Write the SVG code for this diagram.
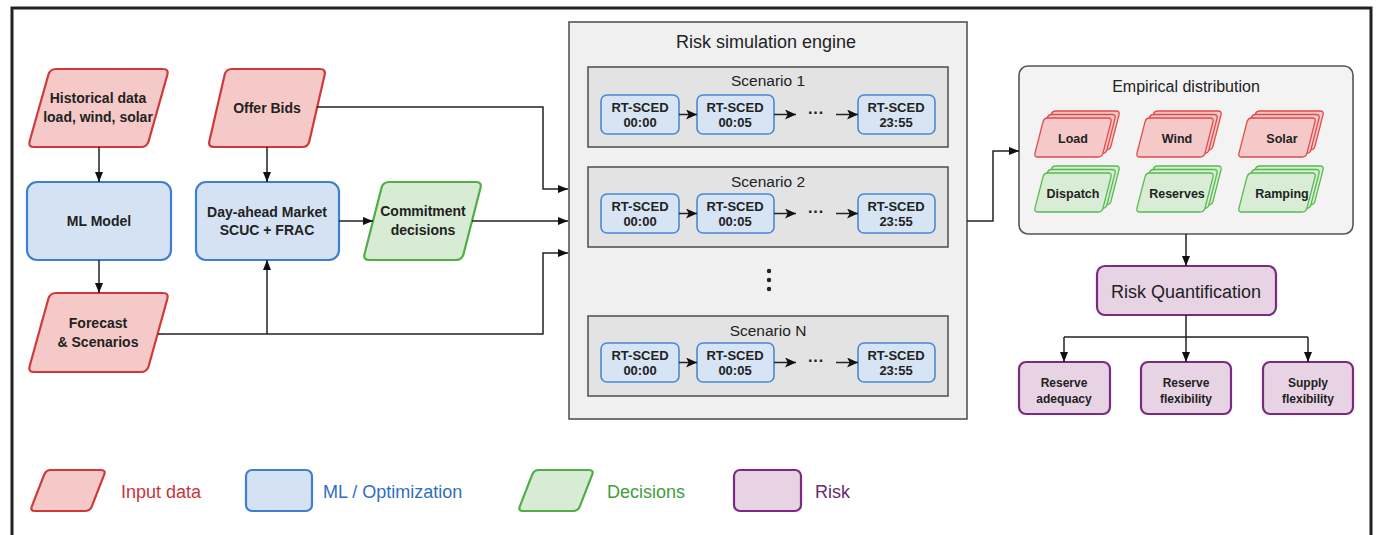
<svg xmlns="http://www.w3.org/2000/svg" xmlns:xlink="http://www.w3.org/1999/xlink" width="1387" height="535" viewBox="0 0 1387 535">
<style>
text{font-family:"Liberation Sans",Arial,sans-serif;fill:#222;text-anchor:middle}
.nt{font-size:14px;font-weight:bold}
.rt{font-size:13px;font-weight:bold}
.sm{font-size:12.5px;font-weight:bold}
.bt{font-size:12px;font-weight:bold}
.red{fill:#f5c9c8;stroke:#d0393b;stroke-width:2.2}
.blue{fill:#d5e2f3;stroke:#3d80d2;stroke-width:2.2}
.green{fill:#d8ebd4;stroke:#4fae45;stroke-width:2.2}
.purple{fill:#e7d3e4;stroke:#7a2a80;stroke-width:2.2}
.sred{fill:#f5c9c8;stroke:#e04a4a;stroke-width:1.3}
.sgreen{fill:#d9ecd5;stroke:#55bb4e;stroke-width:1.3}
.rtb{fill:#d6e4f4;stroke:#4a88d6;stroke-width:1.6}
.scn{fill:#e3e3e3;stroke:#555;stroke-width:1.6}
.con{fill:none;stroke:#222;stroke-width:1.5}
.arr{marker-end:url(#ah)}
.arr2{marker-end:url(#ah2)}
.leg{font-size:18px;text-anchor:start}
.dots{font-size:16px;font-weight:bold}
.st{font-size:15.5px}
</style>
<defs>
<marker id="ah" viewBox="0 0 10 10" refX="10" refY="5" markerWidth="10" markerHeight="8" markerUnits="userSpaceOnUse" orient="auto" preserveAspectRatio="none"><path d="M0,0 L10,5 L0,10 z" fill="#111"/></marker>
<marker id="ah2" viewBox="0 0 10 10" refX="10" refY="5" markerWidth="11" markerHeight="10" markerUnits="userSpaceOnUse" orient="auto" preserveAspectRatio="none"><path d="M0,0 L10,5 L0,10 L2.5,5 z" fill="#111"/></marker>
<path id="sp" d="M14,0 L74,0 Q78,0 77.01,3.870 L68.99,35.13 Q68,39 64,39 L4,39 Q0,39 0.99,35.13 L9.01,3.87 Q10,0 14,0 Z"/>
</defs>
<rect x="0" y="0" width="1387" height="535" fill="#fff"/>
<rect x="12" y="8" width="1359" height="540" fill="none" stroke="#222" stroke-width="3"/>

<g id="historical">
<path class="red" d="M56,69 L163,69 Q169,69 167.37,74.78 L148.63,141.22 Q147,147 141,147 L34,147 Q28,147 29.63,141.22 L48.37,74.78 Q50,69 56,69 Z"/>
<text class="nt" x="98" y="103">Historical data</text>
<text class="nt" x="98" y="122">load, wind, solar</text>
</g>
<g id="ml-model">
<rect class="blue" x="27" y="182" width="144" height="78" rx="10"/>
<text class="nt" x="99" y="226">ML Model</text>
</g>
<g id="forecast">
<path class="red" d="M56,293 L163,293 Q169,293 167.37,298.8 L148.63,366.2 Q147,372 141,372 L34,372 Q28,372 29.63,366.2 L48.37,298.8 Q50,293 56,293 Z"/>
<text class="nt" x="98" y="328">Forecast</text>
<text class="nt" x="98" y="347">&amp; Scenarios</text>
</g>
<g id="offer-bids">
<path class="red" d="M232,69 L320,69 Q326,69 324.65,74.85 L309.35,141.15 Q308,147 302,147 L214,147 Q208,147 209.35,141.15 L224.65,74.85 Q226,69 232,69 Z"/>
<text class="nt" x="267" y="113">Offer Bids</text>
</g>
<g id="day-ahead">
<rect class="blue" x="196" y="182" width="143" height="78" rx="10"/>
<text class="nt" x="267" y="217">Day-ahead Market</text>
<text class="nt" x="267" y="235">SCUC + FRAC</text>
</g>
<g id="commitment">
<path class="green" d="M389,182 L476,182 Q482,182 480.51,187.81 L463.49,254.19 Q462,260 456,260 L369,260 Q363,260 364.49,254.19 L381.51,187.81 Q383,182 389,182 Z"/>
<text class="nt" x="423" y="216">Commitment</text>
<text class="nt" x="423" y="235">decisions</text>
</g>

<g id="risk-engine">
<rect x="569" y="22" width="398" height="397" fill="#f0f0f0" stroke="#555" stroke-width="1.6"/>
<text x="766" y="48" style="font-size:18px">Risk simulation engine</text>
<circle cx="769" cy="271" r="2.2" fill="#222"/>
<circle cx="769" cy="280" r="2.2" fill="#222"/>
<circle cx="769" cy="289" r="2.2" fill="#222"/>
</g>

<g id="scenario-1">
<rect class="scn" x="588" y="67" width="360" height="80"/>
<text class="st" x="768" y="86">Scenario 1</text>
<rect class="rtb" x="601" y="95" width="78" height="39" rx="6"/>
<text class="rt" x="640" y="112">RT-SCED</text><text class="rt" x="640" y="127">00:00</text>
<rect class="rtb" x="697" y="95" width="77" height="39" rx="6"/>
<text class="rt" x="735" y="112">RT-SCED</text><text class="rt" x="735" y="127">00:05</text>
<rect class="rtb" x="858" y="95" width="77" height="39" rx="6"/>
<text class="rt" x="896" y="112">RT-SCED</text><text class="rt" x="896" y="127">23:55</text>
<text class="dots" x="816" y="118">···</text>
</g>
<g id="scenario-2">
<rect class="scn" x="588" y="167" width="360" height="80"/>
<text class="st" x="768" y="187">Scenario 2</text>
<rect class="rtb" x="601" y="194" width="78" height="39" rx="6"/>
<text class="rt" x="640" y="211">RT-SCED</text><text class="rt" x="640" y="226">00:00</text>
<rect class="rtb" x="697" y="194" width="77" height="39" rx="6"/>
<text class="rt" x="735" y="211">RT-SCED</text><text class="rt" x="735" y="226">00:05</text>
<rect class="rtb" x="858" y="194" width="77" height="39" rx="6"/>
<text class="rt" x="896" y="211">RT-SCED</text><text class="rt" x="896" y="226">23:55</text>
<text class="dots" x="816" y="217">···</text>
</g>
<g id="scenario-n">
<rect class="scn" x="588" y="316" width="360" height="80"/>
<text class="st" x="768" y="336">Scenario N</text>
<rect class="rtb" x="601" y="343" width="78" height="39" rx="6"/>
<text class="rt" x="640" y="360">RT-SCED</text><text class="rt" x="640" y="375">00:00</text>
<rect class="rtb" x="697" y="343" width="77" height="39" rx="6"/>
<text class="rt" x="735" y="360">RT-SCED</text><text class="rt" x="735" y="375">00:05</text>
<rect class="rtb" x="858" y="343" width="77" height="39" rx="6"/>
<text class="rt" x="896" y="360">RT-SCED</text><text class="rt" x="896" y="375">23:55</text>
<text class="dots" x="816" y="366">···</text>
</g>

<g id="empirical">
<rect x="1019" y="66" width="334" height="168" rx="9" fill="#f3f3f3" stroke="#555" stroke-width="1.6"/>
<text x="1186" y="92" style="font-size:16px">Empirical distribution</text>
<g class="sred">
<use xlink:href="#sp" transform="translate(1042,111)"/><use xlink:href="#sp" transform="translate(1038,114.5)"/><use xlink:href="#sp" transform="translate(1034,118)"/>
<use xlink:href="#sp" transform="translate(1144,111)"/><use xlink:href="#sp" transform="translate(1140,114.5)"/><use xlink:href="#sp" transform="translate(1136,118)"/>
<use xlink:href="#sp" transform="translate(1246,111)"/><use xlink:href="#sp" transform="translate(1242,114.5)"/><use xlink:href="#sp" transform="translate(1238,118)"/>
</g>
<g class="sgreen">
<use xlink:href="#sp" transform="translate(1042,166)"/><use xlink:href="#sp" transform="translate(1038,169.5)"/><use xlink:href="#sp" transform="translate(1034,173)"/>
<use xlink:href="#sp" transform="translate(1144,166)"/><use xlink:href="#sp" transform="translate(1140,169.5)"/><use xlink:href="#sp" transform="translate(1136,173)"/>
<use xlink:href="#sp" transform="translate(1246,166)"/><use xlink:href="#sp" transform="translate(1242,169.5)"/><use xlink:href="#sp" transform="translate(1238,173)"/>
</g>
<text class="sm" x="1073" y="142.5">Load</text>
<text class="sm" x="1177" y="142.5">Wind</text>
<text class="sm" x="1282" y="142.5">Solar</text>
<text class="sm" x="1073" y="197.5">Dispatch</text>
<text class="sm" x="1177" y="197.5">Reserves</text>
<text class="sm" x="1282" y="197.5">Ramping</text>
</g>

<g id="risk-quantification">
<rect class="purple" x="1097" y="266" width="179" height="49" rx="8"/>
<text x="1186" y="298" style="font-size:18px">Risk Quantification</text>
</g>
<g id="reserve-adequacy">
<rect class="purple" x="1019" y="362" width="91" height="52" rx="7"/>
<text class="bt" x="1064" y="387">Reserve</text><text class="bt" x="1064" y="403">adequacy</text>
</g>
<g id="reserve-flexibility">
<rect class="purple" x="1141" y="362" width="90" height="52" rx="7"/>
<text class="bt" x="1186" y="387">Reserve</text><text class="bt" x="1186" y="403">flexibility</text>
</g>
<g id="supply-flexibility">
<rect class="purple" x="1263" y="362" width="90" height="52" rx="7"/>
<text class="bt" x="1308" y="387">Supply</text><text class="bt" x="1308" y="403">flexibility</text>
</g>

<g id="connectors">
<path class="con arr" d="M99,147 V182"/>
<path class="con arr" d="M99,260 V293"/>
<path class="con arr" d="M267,147 V182"/>
<path class="con arr" d="M339,221 H373"/>
<path class="con arr" d="M472,221 H568"/>
<path class="con arr" d="M317,107 H543 V189 H568"/>
<path class="con arr" d="M158,334 H543 V253 H568"/>
<path class="con arr" d="M267,334 V260"/>
<path class="con arr" d="M967,221 H993 V151 H1019"/>
<path class="con arr" d="M1186,234 V266"/>
<path class="con" d="M1186,315 V337 M1064,337 H1308"/>
<path class="con arr" d="M1064,337 V362"/>
<path class="con arr" d="M1186,337 V362"/>
<path class="con arr" d="M1308,337 V362"/>
<path class="con arr2" d="M679,114.5 H697"/>
<path class="con arr2" d="M774,114.5 H796"/>
<path class="con arr2" d="M836,114.5 H858"/>
<path class="con arr2" d="M679,213.5 H697"/>
<path class="con arr2" d="M774,213.5 H796"/>
<path class="con arr2" d="M836,213.5 H858"/>
<path class="con arr2" d="M679,362.5 H697"/>
<path class="con arr2" d="M774,362.5 H796"/>
<path class="con arr2" d="M836,362.5 H858"/>
</g>

<g id="legend">
<path class="red" d="M51,470 L101,470 Q106,470 104.18,474.66 L91.82,506.34 Q90,511 85,511 L35,511 Q30,511 31.82,506.34 L44.18,474.66 Q46,470 51,470 Z"/>
<text class="leg" x="121" y="498" style="fill:#c8343a">Input data</text>
<rect class="blue" x="246" y="470" width="66" height="41" rx="6"/>
<text class="leg" x="323" y="498" style="fill:#2f6fc0">ML / Optimization</text>
<path class="green" d="M539,470 L589,470 Q594,470 592.18,474.66 L579.82,506.34 Q578,511 573,511 L523,511 Q518,511 519.82,506.34 L532.18,474.66 Q534,470 539,470 Z"/>
<text class="leg" x="607" y="498" style="fill:#3e9e3a">Decisions</text>
<rect class="purple" x="734" y="470" width="67" height="41" rx="6"/>
<text class="leg" x="815" y="498" style="fill:#6b2a72">Risk</text>
</g>
</svg>
